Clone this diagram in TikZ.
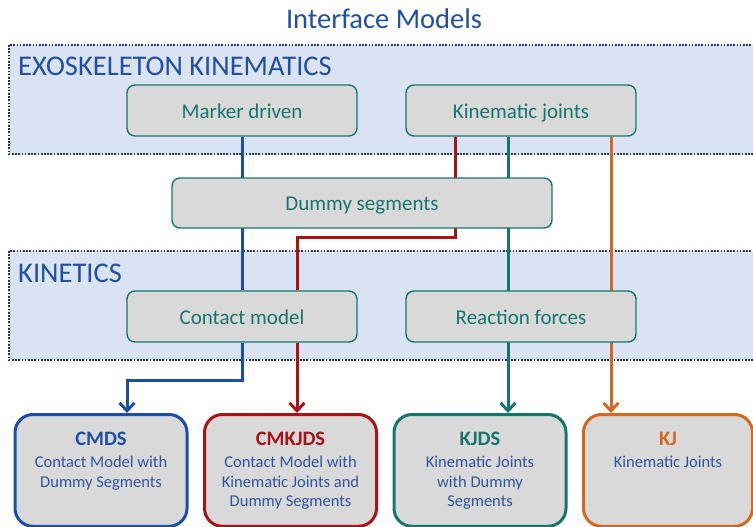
\documentclass[tikz,border=0pt]{standalone}
\usepackage{fontspec}
\setmainfont{Carlito}
\usetikzlibrary{arrows.meta}
\definecolor{ttlblue}{RGB}{32,80,164}
\definecolor{subblue}{RGB}{47,85,160}
\definecolor{cblue}{RGB}{28,78,168}
\definecolor{cteal}{RGB}{22,118,110}
\definecolor{cred}{RGB}{170,18,22}
\definecolor{corange}{RGB}{212,104,30}
\definecolor{regfill}{RGB}{218,227,243}
\definecolor{regline}{RGB}{30,50,96}
\definecolor{boxfill}{RGB}{217,217,217}
\pgfdeclarelayer{regions}
\pgfdeclarelayer{lines}
\pgfsetlayers{regions,lines,main}
\newcommand\boxtxt[3]{\parbox[t][77pt][t]{165pt}{\centering{\color{#1}\bfseries\fontsize{20.5}{22}\selectfont #2\par}\vspace{3pt}{\color{subblue}\fontsize{16.5}{19.5}\selectfont #3\par}}}
\begin{document}
\begin{tikzpicture}[x=1pt,y=-1pt,
  region/.style={fill=regfill,draw=regline,line width=2.4pt,dash pattern=on 1.7pt off 1.5pt},
  heading/.style={text=ttlblue,font=\fontsize{28.5}{32}\selectfont,inner sep=0pt},
  mbox/.style={draw=cteal,fill=boxfill,line width=1.4pt,rounded corners=8pt,text=cteal,
    font=\fontsize{21}{24}\selectfont,text height=15pt,text depth=0pt,inner sep=0pt},
  rbox/.style={fill=boxfill,line width=3pt,rounded corners=18pt,minimum width=172pt,
    anchor=north,inner xsep=0pt,inner ysep=17.4pt},
  conn/.style={line width=3pt},
  tip/.style={-{Straight Barb[length=8pt,width=15pt]}}]
\clip (0,0) rectangle (753,527);
% regions
\begin{pgfonlayer}{regions}
\filldraw[region] (9,45) rectangle (775,154);
\filldraw[region] (9,251) rectangle (775,360);
\end{pgfonlayer}
% title and headings
\node[heading,anchor=base] (title) at (384,29) {Interface Models};
\node[heading,anchor=base west] (hexo) at (18,76) {EXOSKELETON KINEMATICS};
\node[heading,anchor=base west] (hkin) at (18,282) {KINETICS};
% middle boxes
\node[mbox,minimum width=230pt,minimum height=51pt] (md) at (242,110.5) {Marker driven};
\node[mbox,minimum width=230pt,minimum height=51pt] (kj) at (521,110.5) {Kinematic joints};
\node[mbox,minimum width=380pt,minimum height=50pt] (ds) at (362,203) {Dummy segments};
\node[mbox,minimum width=230pt,minimum height=51pt] (cm) at (242,316.5) {Contact model};
\node[mbox,minimum width=230pt,minimum height=51pt] (rf) at (521,316.5) {Reaction forces};
% result boxes
\node[rbox,draw=cblue] (cmds) at (101,413) {\boxtxt{cblue}{CMDS}{Contact Model with\\Dummy Segments}};
\node[rbox,draw=cred] (cmkjds) at (290.5,413) {\boxtxt{cred}{CMKJDS}{Contact Model with\\Kinematic Joints and\\Dummy Segments}};
\node[rbox,draw=cteal] (kjds) at (480,413) {\boxtxt{cteal}{KJDS}{Kinematic Joints\\with Dummy\\Segments}};
\node[rbox,draw=corange,minimum width=169pt] (kjr) at (668,413) {\boxtxt{corange}{KJ}{Kinematic Joints}};
% helper coordinates
\coordinate (xb) at (127,0);
\coordinate (xr) at (455,0);
\coordinate (xr2) at (297,0);
\coordinate (xt) at (508,0);
\coordinate (xo) at (611,0);
\coordinate (bb) at (242,380);
\coordinate (r1) at (455,237);
\coordinate (r2) at (297,237);
% connectors
\begin{pgfonlayer}{lines}
\draw[conn,cblue] (md.south) -- (cm.north);
\draw[conn,cblue,tip] (cm.south) -- (bb) -| (cmds.north -| xb);
\draw[conn,cred] (kj.south -| xr) -- (r1) -- (r2) -- (cm.north -| xr2);
\draw[conn,cred,tip] (cm.south -| xr2) -- (cmkjds.north -| xr2);
\draw[conn,cteal,tip] (kj.south -| xt) -- (kjds.north -| xt);
\draw[conn,corange,tip] (kj.south -| xo) -- (kjr.north -| xo);
\end{pgfonlayer}
\end{tikzpicture}
\end{document}
